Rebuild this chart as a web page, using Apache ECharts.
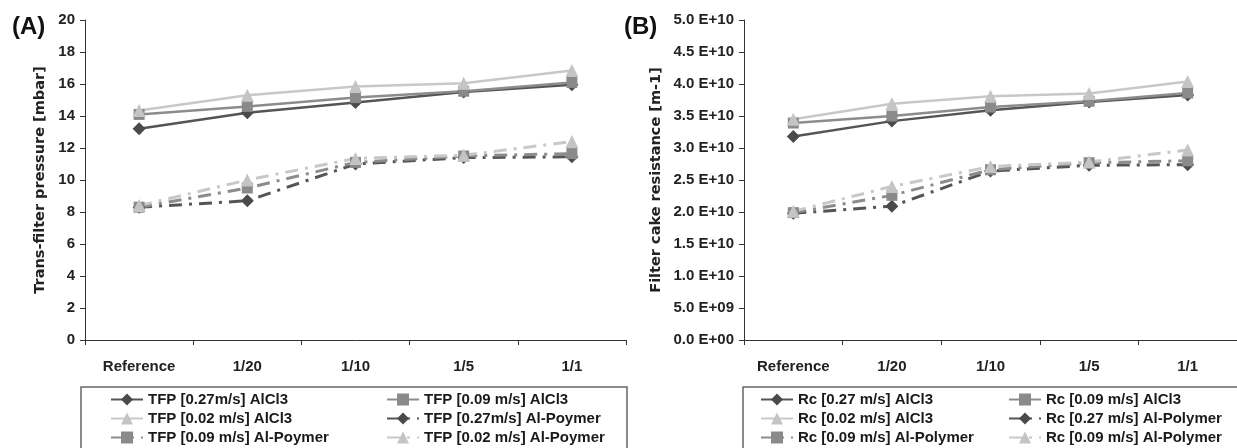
<!DOCTYPE html>
<html><head><meta charset="utf-8">
<script src="https://cdn.jsdelivr.net/npm/echarts@6/dist/echarts.min.js"></script>
<style>html,body{margin:0;padding:0;background:#fff}#c{width:1237px;height:448px}</style>
</head><body><div id="c"></div>
<script>
const categories = ['Reference', '1/20', '1/10', '1/5', '1/1'];

// Panel A: Trans-filter pressure [mbar]
const namesA = ['TFP [0.27m/s] AlCl3', 'TFP [0.09 m/s] AlCl3', 'TFP [0.02 m/s] AlCl3',
                'TFP [0.27m/s] Al-Poymer', 'TFP [0.09 m/s] Al-Poymer', 'TFP [0.02 m/s] Al-Poymer'];
const tfp027AlCl3 = [13.2, 14.2, 14.85, 15.5, 15.95];
const tfp009AlCl3 = [14.1, 14.6, 15.15, 15.55, 16.1];
const tfp002AlCl3 = [14.35, 15.3, 15.85, 16.05, 16.85];
const tfp027Poly  = [8.3, 8.7, 11.0, 11.4, 11.45];
const tfp009Poly  = [8.3, 9.5, 11.1, 11.5, 11.65];
const tfp002Poly  = [8.4, 10.0, 11.35, 11.55, 12.4];

// Panel B: Filter cake resistance [m-1]
const namesB = ['Rc [0.27 m/s] AlCl3', 'Rc [0.09 m/s] AlCl3', 'Rc [0.02 m/s] AlCl3',
                'Rc [0.27 m/s] Al-Polymer', 'Rc [0.09 m/s] Al-Polymer', 'Rc [0.09 m/s] Al-Polymer\u200B'];
const rc027AlCl3 = [3.18e10, 3.42e10, 3.59e10, 3.72e10, 3.83e10];
const rc009AlCl3 = [3.39e10, 3.50e10, 3.64e10, 3.73e10, 3.86e10];
const rc002AlCl3 = [3.45e10, 3.69e10, 3.81e10, 3.85e10, 4.04e10];
const rc027Poly  = [1.98e10, 2.09e10, 2.64e10, 2.73e10, 2.74e10];
const rc009Poly  = [1.99e10, 2.26e10, 2.66e10, 2.77e10, 2.80e10];
const rc002Poly  = [2.01e10, 2.40e10, 2.71e10, 2.78e10, 2.97e10];

const dataA = [tfp027AlCl3, tfp009AlCl3, tfp002AlCl3, tfp027Poly, tfp009Poly, tfp002Poly];
const dataB = [rc027AlCl3, rc009AlCl3, rc002AlCl3, rc027Poly, rc009Poly, rc002Poly];

const styles = [
  {sym: 'diamond', size: 13, line: '#555555', fill: '#4a4a4a', dash: 'solid'},
  {sym: 'rect', size: 11, line: '#8c8c8c', fill: '#8a8a8a', dash: 'solid'},
  {sym: 'triangle', size: 13, line: '#c8c8c8', fill: '#c4c4c4', dash: 'solid'},
  {sym: 'diamond', size: 13, line: '#555555', fill: '#4a4a4a', dash: [13, 7, 3, 7]},
  {sym: 'rect', size: 11, line: '#8c8c8c', fill: '#8a8a8a', dash: [13, 7, 3, 7]},
  {sym: 'triangle', size: 13, line: '#c8c8c8', fill: '#c4c4c4', dash: [13, 7, 3, 7]}
];

const FONT = "'Liberation Sans', Arial, sans-serif";

function sci(v) {
  if (v === 0) return '0.0 E+00';
  const e = Math.floor(Math.log10(v) + 1e-9);
  const m = v / Math.pow(10, e);
  return m.toFixed(1) + ' E+' + String(e).padStart(2, '0');
}

function mkSeries(names, data, idx) {
  return names.map((n, i) => ({
    name: n, type: 'line', xAxisIndex: idx, yAxisIndex: idx,
    data: data[i], symbol: styles[i].sym, symbolSize: styles[i].size,
    lineStyle: {color: styles[i].line, width: i < 3 ? 2.5 : 3, type: styles[i].dash},
    itemStyle: {color: styles[i].fill},
    emphasis: {disabled: true}, animation: false
  }));
}

const axisLine = {show: true, lineStyle: {color: '#333', width: 1}};
const labelStyle = {color: '#222', fontFamily: FONT, fontWeight: 'bold', fontSize: 15};

function xAx(idx) {
  return {type: 'category', gridIndex: idx, data: categories, boundaryGap: true,
    axisLine: axisLine, axisTick: {show: true, length: 5, lineStyle: {color: '#333'}},
    axisLabel: Object.assign({margin: 19}, labelStyle), splitLine: {show: false}};
}

const legendText = {color: '#1a1a1a', fontFamily: FONT, fontWeight: 'bold', fontSize: 15};
function leg(names, left) {
  return {orient: 'vertical', left: left, top: 392, itemWidth: 32, itemHeight: 15,
    itemGap: 4, padding: 0, data: names, selectedMode: false, textStyle: legendText};
}

const nameStyle = {fontFamily: "'DejaVu Sans', sans-serif", fontWeight: 'bold', fontSize: 14.5, color: '#222'};

const option = {
  animation: false,
  title: [
    {text: '(A)', left: 7, top: 10, textStyle: {fontFamily: FONT, fontWeight: 'bold', fontSize: 24, color: '#111'}},
    {text: '(B)', left: 619, top: 10, textStyle: {fontFamily: FONT, fontWeight: 'bold', fontSize: 24, color: '#111'}}
  ],
  grid: [
    {left: 85, right: 611, top: 20, bottom: 108},
    {left: 744, right: 0, top: 20, bottom: 108}
  ],
  xAxis: [xAx(0), xAx(1)],
  yAxis: [
    {type: 'value', gridIndex: 0, min: 0, max: 20, interval: 2,
     name: 'Trans-filter pressure [mbar]', nameLocation: 'middle', nameGap: 37,
     nameTextStyle: nameStyle,
     axisLine: axisLine, axisTick: {show: true, length: 5, lineStyle: {color: '#333'}},
     axisLabel: Object.assign({margin: 10}, labelStyle), splitLine: {show: false}},
    {type: 'value', gridIndex: 1, min: 0, max: 5e10, interval: 5e9,
     name: 'Filter cake resistance [m-1]', nameLocation: 'middle', nameGap: 80,
     nameTextStyle: nameStyle,
     axisLine: axisLine, axisTick: {show: true, length: 5, lineStyle: {color: '#333'}},
     axisLabel: Object.assign({margin: 10, formatter: sci}, labelStyle), splitLine: {show: false}}
  ],
  legend: [
    leg([namesA[0], namesA[2], namesA[4]], 110),
    leg([namesA[1], namesA[3], namesA[5]], 386),
    leg([namesB[0], namesB[2], namesB[4]], 760),
    leg([namesB[1], namesB[3], namesB[5]], 1008)
  ],
  graphic: [
    {type: 'rect', shape: {x: 81, y: 387, width: 546, height: 80}, style: {fill: 'none', stroke: '#666', lineWidth: 1.5}, z: -1},
    {type: 'rect', shape: {x: 743, y: 387, width: 520, height: 80}, style: {fill: 'none', stroke: '#666', lineWidth: 1.5}, z: -1}
  ],
  series: mkSeries(namesA, dataA, 0).concat(mkSeries(namesB, dataB, 1))
};

const chart = echarts.init(document.getElementById('c'), null, {renderer: 'canvas'});
chart.setOption(option);
</script></body></html>
